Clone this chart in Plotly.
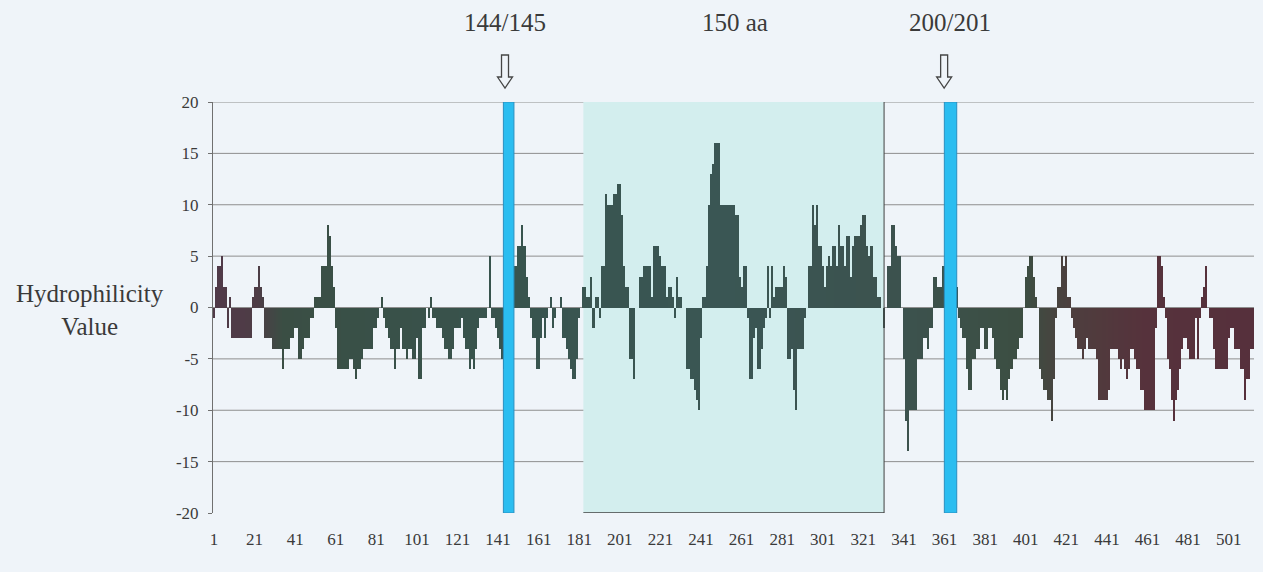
import numpy as np
import plotly.graph_objects as go

# ---------------- data ----------------
residues = list(range(1, 514))
hydrophilicity = [
    -1, 2, 4, 4, 5, 2, 2, -2, 1, -3,
    -3, -3, -3, -3, -3, -3, -3, -3, -3, 1,
    2, 2, 4, 2, 1, -3, -3, -3, -3, -4,
    -4, -4, -4, -4, -6, -4, -4, -4, -3, -3,
    -2, -2, -5, -5, -4, -3, -3, -3, -1, -1,
    1, 1, 1, 4, 4, 4, 8, 7, 4, 2,
    -2, -6, -6, -6, -6, -6, -6, -5, -5, -6,
    -7, -6, -6, -5, -4, -4, -4, -4, -4, -2,
    -2, -1, 0, 1, -1, -2, -3, -4, -4, -6,
    -4, -4, -2, -4, -4, -5, -4, -4, -5, -5,
    -3, -7, -7, -2, -2, 0, -1, 1, -1, -1,
    -2, -2, -2, -3, -4, -4, -5, -5, -4, -2,
    -2, -2, -1, -3, -4, -4, -6, -5, -6, -4,
    -2, -1, -1, -1, -1, 0, 5, -1, -1, -2,
    -3, -4, -5, -6, -7, -6, -5, -2, 4, 4,
    6, 6, 8, 6, 3, 1, -1, -3, -3, -6,
    -6, -3, -1, -3, -1, 0, 1, -2, -1, 0,
    0, 1, -3, -3, -4, -5, -6, -7, -7, -5,
    -1, 0, 2, 2, 1, 1, 3, -2, 1, 1,
    -1, 4, 4, 11, 10, 10, 10, 11, 11, 12,
    12, 9, 4, 2, 2, -5, -5, -7, 0, 0,
    3, 3, 4, 4, 4, 4, 1, 6, 6, 6,
    5, 4, 4, 1, 2, 2, 1, -1, 3, 1,
    1, 0, 0, -6, -6, -7, -7, -8, -9, -10,
    -3, 1, 1, 4, 10, 13, 14, 16, 16, 16,
    10, 10, 10, 10, 10, 10, 10, 9, 9, 3,
    2, 4, 4, -1, -7, -7, -3, -2, -6, -6,
    -4, -2, -1, 4, -1, 4, 1, 2, 2, 2,
    2, 4, 3, -5, -5, -4, -8, -10, -4, -4,
    -4, -1, 0, 4, 4, 10, 8, 10, 6, 6,
    4, 2, 4, 5, 4, 6, 6, 4, 8, 6,
    6, 4, 7, 7, 3, 6, 7, 7, 7, 8,
    9, 9, 6, 5, 6, 3, 3, 1, 1, 0,
    -2, 0, 4, 4, 8, 8, 6, 5, 5, 0,
    -5, -11, -14, -10, -10, -10, -10, -5, -5, -5,
    -3, -3, -4, -2, -2, 3, 3, 2, 2, 4,
    4, 6, 3, 2, 5, 5, 2, -1, -2, -3,
    -3, -6, -8, -8, -5, -5, -4, -4, -2, -2,
    -4, -4, -2, -2, -3, -5, -6, -6, -8, -9,
    -8, -9, -7, -6, -5, -5, -4, -3, -3, 0,
    3, 4, 5, 5, 3, 1, 0, -6, -7, -8,
    -8, -9, -9, -11, -7, -1, 2, 2, 5, 4,
    5, 1, 1, -1, -2, -3, -4, -4, -5, -4,
    -3, -4, -4, -4, -4, -5, -9, -9, -9, -9,
    -9, -8, -4, -4, -4, -4, -5, -6, -5, -6,
    -7, -6, -4, -4, -5, -6, -6, -8, -8, -10,
    -10, -10, -10, -10, -2, 5, 5, 4, 1, -1,
    -5, -6, -9, -11, -9, -8, -6, -4, -3, -3,
    -4, -5, -5, -5, -1, -5, -1, 1, 2, 4,
    0, -1, -1, -4, -6, -6, -6, -6, -6, -6,
    -3, -2, -2, -4, -4, -4, -6, -6, -9, -7,
    -7, -4, -4,
]
x_tick_values = list(range(1, 502, 20))
y_tick_values = list(range(-20, 21, 5))
y_tick_labels = [str(v) for v in y_tick_values]

site_labels = ["144/145", "150 aa", "200/201"]
site_positions = [144.4, 257.5, 363.7]      # residue positions of the labels
arrow_positions = [144.4, 360.8]            # hollow arrows
cut_bands = [(143.6, 148.8), (360.9, 367.0)]  # blue highlighted sites
region_150aa = (183.0, 331.2)               # shaded 150 aa region

n = min(len(residues), len(hydrophilicity))
residues = residues[:n]
hydrophilicity = hydrophilicity[:n]

# ---------------- style ----------------
FONT = "Liberation Serif"
BG = "#eff4f9"
TXT = "#3a3a3a"
OFF = 0                       # page body margin removed by post_script
W, H = 1263, 572
ML, MR, MT, MB = 213, 9, 102, 59
PW = W - ML - MR
PH = H - MT - MB
XMIN, XMAX = 0.5, n + 0.5

# bar colour gradient along the sequence
anchor_pos = [1, 22, 35, 150, 250, 340, 400, 425, 460, n]
anchor_rgb = [(80, 58, 72), (78, 60, 70), (58, 78, 68), (56, 84, 78), (58, 86, 84),
              (60, 82, 78), (60, 78, 66), (78, 62, 62), (86, 50, 60), (86, 48, 60)]
anchor_rgb = np.array(anchor_rgb, dtype=float)
bar_colors = []
for r in residues:
    c = [int(round(np.interp(r, anchor_pos, anchor_rgb[:, k]))) for k in range(3)]
    bar_colors.append(f"rgb({c[0]},{c[1]},{c[2]})")

fig = go.Figure()
fig.add_trace(go.Bar(
    x=residues, y=hydrophilicity,
    marker=dict(color=bar_colors, line=dict(width=0)),
    width=1.0, hoverinfo="x+y", showlegend=False,
))

shapes = []
shapes.append(dict(type="rect", xref="x", yref="y", x0=region_150aa[0], x1=region_150aa[1],
                   y0=-20, y1=20, fillcolor="#d3eeee", line=dict(width=0), layer="below"))
for v in y_tick_values:
    if v == -20:
        continue
    shapes.append(dict(type="line", xref="paper", yref="y", x0=0, x1=1, y0=v, y1=v,
                       line=dict(color="#8e8e8e", width=1), layer="below"))
shapes.append(dict(type="line", xref="x", yref="y", x0=region_150aa[1], x1=region_150aa[1],
                   y0=-20, y1=20, line=dict(color="#404040", width=1), layer="above"))
shapes.append(dict(type="line", xref="x", yref="y", x0=region_150aa[0], x1=region_150aa[1],
                   y0=-20, y1=-20, line=dict(color="#404040", width=1.5), layer="above"))
for a, b in cut_bands:
    shapes.append(dict(type="rect", xref="x", yref="y", x0=a, x1=b, y0=-20, y1=20,
                       fillcolor="#2bbdf0", line=dict(color="#2a8fc0", width=1), layer="above"))


def xpaper(res):
    return (res - XMIN) / (XMAX - XMIN)


def xpaper_px(px):
    return (px - OFF - ML) / PW


def ypaper(py):
    return (OFF + H - MB - py) / PH


for pos in arrow_positions:
    cx = xpaper(pos)
    sw = 3.5 / PW
    hw = 7.5 / PW
    ytop, ybase, ytip = ypaper(55), ypaper(77), ypaper(88)
    path = (f"M {cx - sw},{ytop} L {cx + sw},{ytop} L {cx + sw},{ybase} L {cx + hw},{ybase} "
            f"L {cx},{ytip} L {cx - hw},{ybase} L {cx - sw},{ybase} Z")
    shapes.append(dict(type="path", xref="paper", yref="paper", path=path,
                       fillcolor=BG, line=dict(color="#454545", width=1.3)))

annotations = []
for lab, pos in zip(site_labels, site_positions):
    annotations.append(dict(text=lab, xref="paper", yref="paper", x=xpaper(pos), y=ypaper(23),
                            xanchor="center", yanchor="middle", showarrow=False,
                            font=dict(family=FONT, size=25, color=TXT)))
annotations.append(dict(text="Hydrophilicity<br>Value", xref="paper", yref="paper",
                        x=xpaper_px(90), y=ypaper(310), xanchor="center", yanchor="middle",
                        showarrow=False, align="center",
                        font=dict(family=FONT, size=25, color=TXT)))

fig.update_layout(
    width=W, height=H,
    margin=dict(l=ML, r=MR, t=MT, b=MB, pad=0),
    paper_bgcolor=BG, plot_bgcolor=BG,
    bargap=0, shapes=shapes, annotations=annotations,
    font=dict(family=FONT, color=TXT),
)
fig.update_xaxes(range=[XMIN, XMAX], tickmode="array", tickvals=x_tick_values,
                 ticktext=[str(v) for v in x_tick_values], showgrid=False, zeroline=False,
                 showline=False, ticks="", ticklabelstandoff=14,
                 tickfont=dict(family=FONT, size=17, color=TXT))
fig.update_yaxes(range=[-20, 20], tickmode="array", tickvals=y_tick_values,
                 ticktext=y_tick_labels,
                 showgrid=False, zeroline=False, showline=True, linecolor="#707070",
                 linewidth=1, ticks="outside", ticklen=4, tickcolor="#707070",
                 ticklabelstandoff=6, tickfont=dict(family=FONT, size=17, color=TXT))

page_js = ("document.body.style.margin='0';document.body.style.padding='0';"
           "document.body.style.overflow='hidden';"
           f"document.body.style.background='{BG}';")
fig.write_html("out.html", post_script=page_js, config={"displayModeBar": False})
